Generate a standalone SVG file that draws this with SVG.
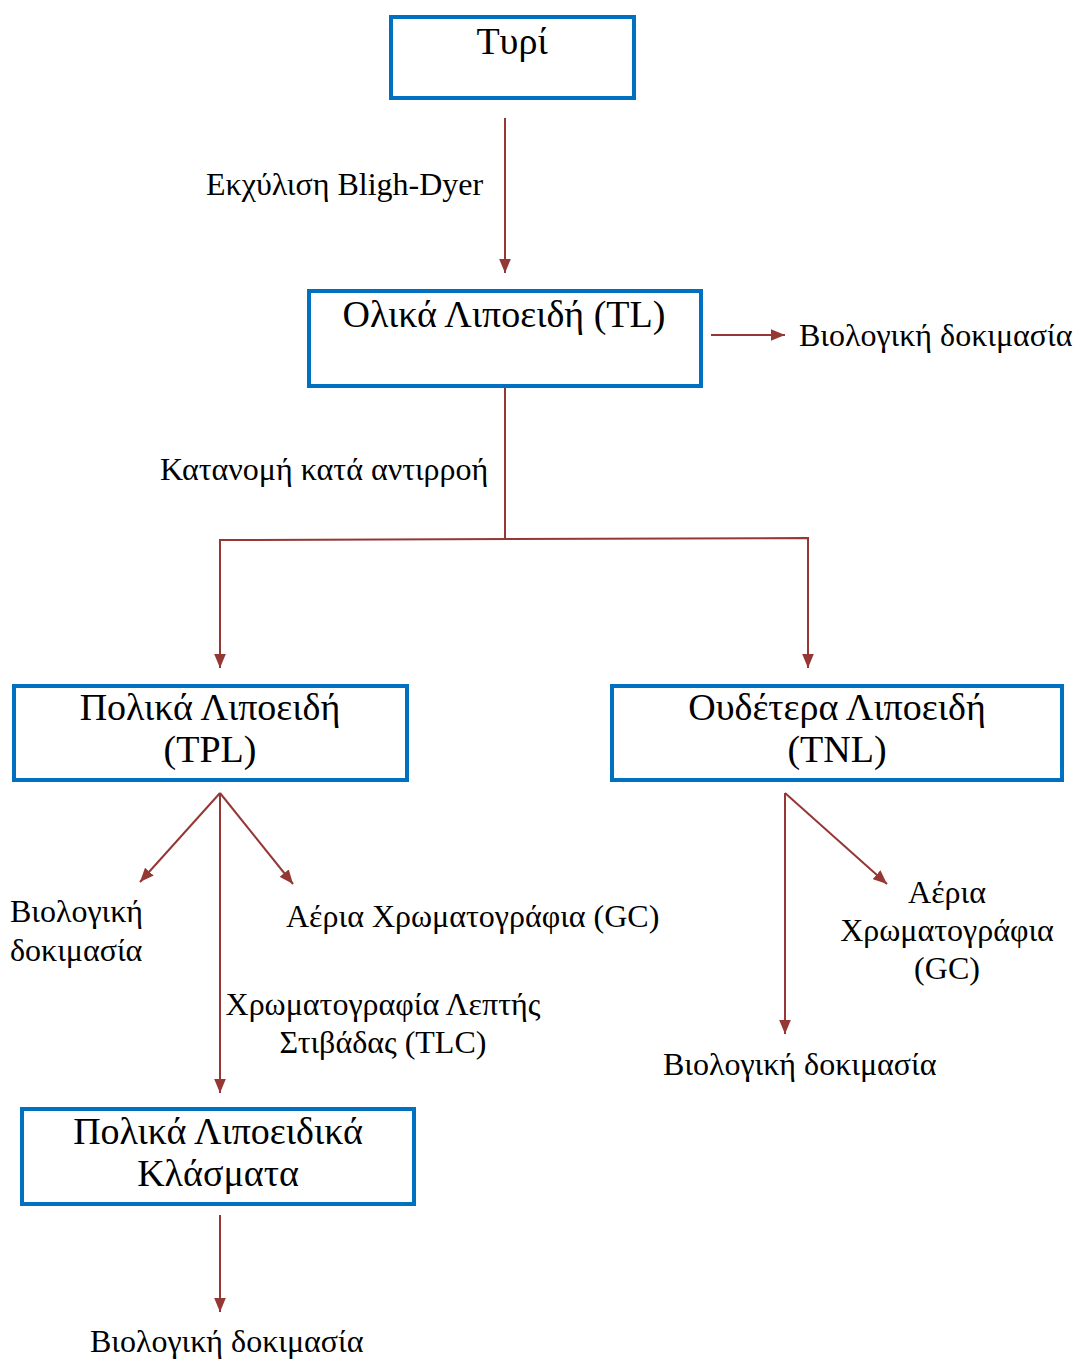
<svg xmlns="http://www.w3.org/2000/svg" width="1077" height="1361" viewBox="0 0 1077 1361">
<style>
.box{fill:#fff;stroke:#0070C0;stroke-width:4}
.bt{font-family:"Liberation Serif","Times New Roman",serif;font-size:38px;fill:#000;text-anchor:middle}
.lb{font-family:"Liberation Serif","Times New Roman",serif;font-size:32px;fill:#000}
.c{fill:none;stroke:#953735;stroke-width:2}
</style>
<defs>
<marker id="ah" markerUnits="userSpaceOnUse" markerWidth="14" markerHeight="12" refX="12" refY="5" orient="auto" viewBox="0 0 12 10">
<path d="M0,0 L12,5 L0,10 Z" fill="#953735"/>
</marker>
</defs>
<rect width="1077" height="1361" fill="#fff"/>
<g id="connectors">
<line class="c" x1="505" y1="118" x2="505" y2="273" marker-end="url(#ah)"/>
<line class="c" x1="711" y1="335" x2="785" y2="335" marker-end="url(#ah)"/>
<polyline class="c" points="505,388 505,539"/>
<polyline class="c" points="220,668 220,540 808,538 808,668" marker-end="url(#ah)"/>
<line class="c" x1="220" y1="540" x2="220" y2="668" marker-end="url(#ah)"/>
<line class="c" x1="220" y1="793" x2="140" y2="882" marker-end="url(#ah)"/>
<line class="c" x1="220" y1="793" x2="293" y2="884" marker-end="url(#ah)"/>
<line class="c" x1="220" y1="793" x2="220" y2="1093" marker-end="url(#ah)"/>
<line class="c" x1="785" y1="793" x2="785" y2="1034" marker-end="url(#ah)"/>
<line class="c" x1="785" y1="793" x2="887" y2="884" marker-end="url(#ah)"/>
<line class="c" x1="220" y1="1215" x2="220" y2="1312" marker-end="url(#ah)"/>
</g>
<g id="n-tyri">
<rect class="box" x="391" y="17" width="243" height="81"/>
<text class="bt" x="512" y="54">Τυρί</text>
</g>
<g id="n-tl">
<rect class="box" x="309" y="291" width="392" height="95"/>
<text class="bt" x="504" y="327">Ολικά Λιποειδή (TL)</text>
</g>
<g id="n-tpl">
<rect class="box" x="14" y="686" width="393" height="94"/>
<text class="bt" x="210" y="720">Πολικά Λιποειδή</text>
<text class="bt" x="210" y="762">(TPL)</text>
</g>
<g id="n-tnl">
<rect class="box" x="612" y="686" width="450" height="94"/>
<text class="bt" x="837" y="720">Ουδέτερα Λιποειδή</text>
<text class="bt" x="837" y="762">(TNL)</text>
</g>
<g id="n-frac">
<rect class="box" x="22" y="1109" width="392" height="95"/>
<text class="bt" x="218" y="1144">Πολικά Λιποειδικά</text>
<text class="bt" x="218" y="1186">Κλάσματα</text>
</g>
<g id="labels">
<text class="lb" x="206" y="195">Εκχύλιση Bligh-Dyer</text>
<text class="lb" x="799" y="346">Βιολογική δοκιμασία</text>
<text class="lb" x="160" y="480">Κατανομή κατά αντιρροή</text>
<text class="lb" x="10" y="922">Βιολογική</text>
<text class="lb" x="10" y="961">δοκιμασία</text>
<text class="lb" x="286" y="927">Αέρια Χρωματογράφια (GC)</text>
<text class="lb" x="383" y="1015" text-anchor="middle">Χρωματογραφία Λεπτής</text>
<text class="lb" x="383" y="1053" text-anchor="middle">Στιβάδας (TLC)</text>
<text class="lb" x="947" y="903" text-anchor="middle">Αέρια</text>
<text class="lb" x="947" y="941" text-anchor="middle">Χρωματογράφια</text>
<text class="lb" x="947" y="979" text-anchor="middle">(GC)</text>
<text class="lb" x="663" y="1075">Βιολογική δοκιμασία</text>
<text class="lb" x="90" y="1352">Βιολογική δοκιμασία</text>
</g>
</svg>
